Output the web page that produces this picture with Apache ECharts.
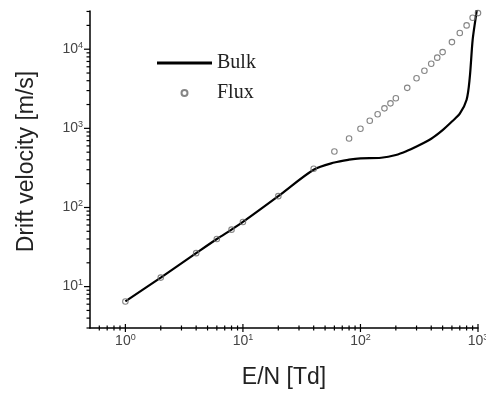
<!DOCTYPE html>
<html>
<head>
<meta charset="utf-8">
<script src="https://cdn.jsdelivr.net/npm/echarts@6/dist/echarts.min.js"></script>
<style>
  html, body { margin: 0; padding: 0; background: #fff; }
  #chart { width: 486px; height: 396px; }
</style>
</head>
<body>
<div id="chart"></div>
<script>
// E/N [Td] vs drift velocity [m/s]
const bulkX = [1, 2, 4, 6, 8, 10, 20, 40, 60, 80, 100, 150, 200, 250, 300, 400, 500, 600, 700, 800, 850, 900, 950, 1000]
const bulkY = [6.5, 13, 26.5, 40, 52.5, 65.6, 139, 300, 370, 402, 418, 425, 460, 520, 590, 740, 950, 1220, 1530, 2300, 4300, 13000, 23500, 40000]
const fluxX = [1, 2, 4, 6, 8, 10, 20, 40, 60, 80, 100, 120, 140, 160, 180, 200, 250, 300, 350, 400, 450, 500, 600, 700, 800, 900, 1000]
const fluxY = [6.5, 13, 26.5, 40, 52.5, 65.6, 139, 309, 509, 745, 988, 1250, 1510, 1790, 2070, 2400, 3250, 4300, 5340, 6560, 7820, 9200, 12300, 16000, 20000, 25000, 28600]

const xMajorTicks = [1, 10, 100, 1000]
const xMinorTicks = [0.6, 0.7, 0.8, 0.9, 2, 3, 4, 5, 6, 7, 8, 9, 20, 30, 40, 50, 60, 70, 80, 90, 200, 300, 400, 500, 600, 700, 800, 900]
const yMajorTicks = [10, 100, 1000, 10000]
const yMinorTicks = [3, 4, 5, 6, 7, 8, 9, 20, 30, 40, 50, 60, 70, 80, 90, 200, 300, 400, 500, 600, 700, 800, 900,
  2000, 3000, 4000, 5000, 6000, 7000, 8000, 9000, 20000, 30000]

const chart = echarts.init(document.getElementById('chart'), null, { renderer: 'canvas' })

function powLabel(v) {
  const e = Math.round(Math.log10(v))
  if (Math.abs(Math.log10(v) - e) > 1e-6) return ''
  return '{b|10}{s|' + e + '}'
}
const labelRich = {
  b: { fontSize: 14, lineHeight: 17, color: '#444', fontFamily: 'Liberation Sans' },
  s: { fontSize: 9, lineHeight: 9, verticalAlign: 'top', color: '#444', fontFamily: 'Liberation Sans' }
}

// tick marks drawn through the axis scales
function xTick(len) {
  return function (params, api) {
    const cs = params.coordSys
    const x = api.coord([api.value(0), 10])[0]
    const y = cs.y + cs.height
    return { type: 'line', shape: { x1: x, y1: y - len, x2: x, y2: y + len }, style: { stroke: '#000', lineWidth: 1.2 } }
  }
}
function yTick(len) {
  return function (params, api) {
    const cs = params.coordSys
    const y = api.coord([1, api.value(1)])[1]
    const x = cs.x
    return { type: 'line', shape: { x1: x - len, y1: y, x2: x, y2: y }, style: { stroke: '#000', lineWidth: 1.2 } }
  }
}

let option = {
  backgroundColor: '#fff',
  animation: false,
  grid: { left: 90, right: 8, top: 11, bottom: 68, outerBoundsMode: 'none' },
  legend: {
    data: [{ name: 'Bulk', icon: 'path://M0,0H110V6H0Z' }, { name: 'Flux' }],
    orient: 'vertical',
    left: 152,
    top: 48,
    itemWidth: 55,
    itemHeight: 6,
    itemGap: 10,
    textStyle: { fontFamily: 'Liberation Serif', fontSize: 20, color: '#222' }
  },
  xAxis: {
    type: 'log',
    logBase: 10,
    min: 0.5,
    max: 1000,
    name: 'E/N [Td]',
    nameLocation: 'middle',
    nameGap: 38,
    nameTextStyle: { fontFamily: 'Liberation Sans', fontSize: 23, color: '#222' },
    axisLine: { lineStyle: { color: '#000', width: 1.5 } },
    axisTick: { show: false },
    splitLine: { show: false },
    axisLabel: { formatter: powLabel, rich: labelRich, margin: 5, showMinLabel: false, hideOverlap: false }
  },
  yAxis: {
    type: 'log',
    logBase: 10,
    min: 3,
    max: 30400,
    name: 'Drift velocity [m/s]',
    nameLocation: 'middle',
    nameGap: 52,
    nameTextStyle: { fontFamily: 'Liberation Sans', fontSize: 23, color: '#222', padding: [0, 0, 0, 16] },
    axisLine: { lineStyle: { color: '#000', width: 1.5 } },
    axisTick: { show: false },
    splitLine: { show: false },
    axisLabel: { formatter: powLabel, rich: labelRich, margin: 7, showMinLabel: false, showMaxLabel: false }
  },
  series: [
    {
      name: 'Bulk',
      type: 'line',
      data: bulkX.map((x, i) => [x, bulkY[i]]),
      smooth: 0.3,
      symbol: 'none',
      clip: true,
      lineStyle: { color: '#000', width: 2.2 },
      itemStyle: { color: '#000' },
      z: 3
    },
    {
      name: 'Flux',
      type: 'scatter',
      data: fluxX.map((x, i) => [x, fluxY[i]]),
      symbol: 'circle',
      symbolSize: 5.5,
      itemStyle: { color: 'transparent', borderColor: '#666', borderWidth: 1.1 },
      z: 4
    },
    {
      type: 'custom', silent: true, renderItem: xTick(4),
      data: xMajorTicks.map(v => [v, 10])
    },
    {
      type: 'custom', silent: true, renderItem: xTick(2.5),
      data: xMinorTicks.map(v => [v, 10])
    },
    {
      type: 'custom', silent: true, renderItem: yTick(6),
      data: yMajorTicks.map(v => [1, v])
    },
    {
      type: 'custom', silent: true, renderItem: yTick(3.5),
      data: yMinorTicks.map(v => [1, v])
    }
  ]
}
chart.setOption(option)
</script>
</body>
</html>
